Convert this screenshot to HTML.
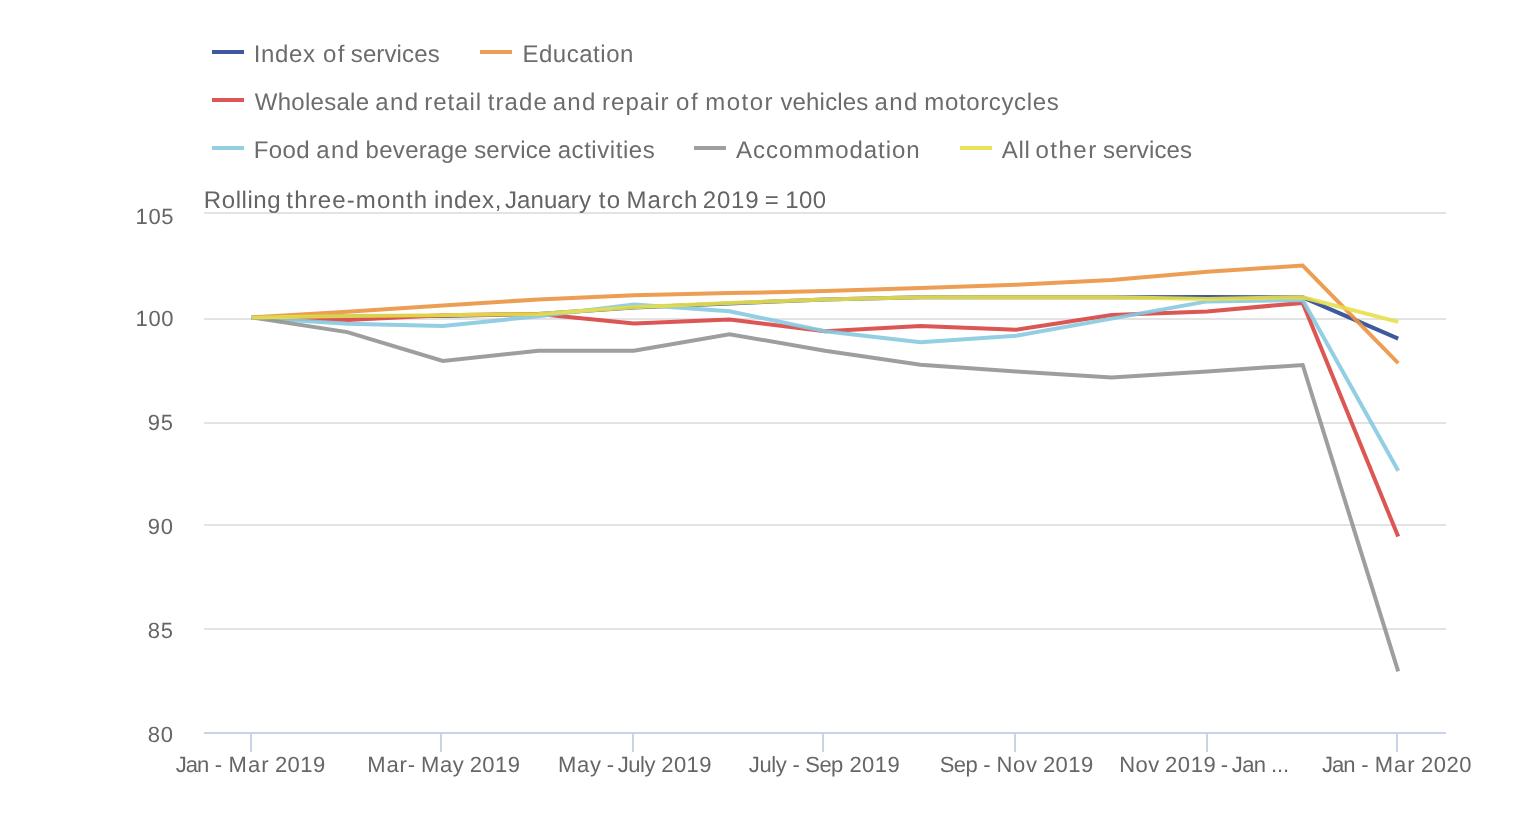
<!DOCTYPE html>
<html lang="en"><head><meta charset="utf-8"><title>Rolling three-month index of services</title>
<style>
html,body{margin:0;padding:0;background:#fff;}
body{width:1516px;height:814px;overflow:hidden;}
.chart-container{width:1516px;height:814px;}
svg{display:block;will-change:transform;}
text{font-family:"Liberation Sans",Arial,sans-serif;text-rendering:geometricPrecision;}
.lg{font-size:24px;fill:#6c6c6c;}
.st{font-size:24px;fill:#646464;}
.ax{font-size:22px;fill:#666666;}
.ay{font-size:22px;fill:#666666;}
.ser{fill:none;stroke-width:4;stroke-linejoin:miter;stroke-linecap:butt;}
</style></head><body>
<div id="chart" class="chart-container">
<svg width="1516" height="814" viewBox="0 0 1516 814">
<rect x="0" y="0" width="1516" height="814" fill="#ffffff"/>
<g class="grid" stroke="#e3e3e3" stroke-width="2" shape-rendering="crispEdges">
<line x1="204" y1="213" x2="1446" y2="213"/>
<line x1="204" y1="319" x2="1446" y2="319"/>
<line x1="204" y1="423" x2="1446" y2="423"/>
<line x1="204" y1="525" x2="1446" y2="525"/>
<line x1="204" y1="629" x2="1446" y2="629"/>
</g>
<g class="xaxis" stroke="#c8d3e8" stroke-width="2" shape-rendering="crispEdges">
<line x1="204" y1="733" x2="1446" y2="733"/>
<line x1="251" y1="734" x2="251" y2="752"/>
<line x1="441" y1="734" x2="441" y2="752"/>
<line x1="633" y1="734" x2="633" y2="752"/>
<line x1="823" y1="734" x2="823" y2="752"/>
<line x1="1015" y1="734" x2="1015" y2="752"/>
<line x1="1207" y1="734" x2="1207" y2="752"/>
<line x1="1397" y1="734" x2="1397" y2="752"/>
</g>
<g class="series">
<path class="ser" stroke="#2a4793" stroke-opacity="0.9" d="M251.8 317.5 L347.3 315.9 L442.8 315.9 L538.4 313.9 L633.9 307.6 L729.5 303.5 L825.0 299.4 L920.5 297.3 L1016.1 297.3 L1111.6 297.3 L1207.2 296.9 L1302.7 297.3 L1398.2 338.7"/>
<path class="ser" stroke="#ea9442" stroke-opacity="0.9" d="M251.8 317.5 L347.3 311.8 L442.8 305.6 L538.4 299.4 L633.9 295.2 L729.5 293.1 L825.0 291.1 L920.5 288.0 L1016.1 284.8 L1111.6 280.1 L1207.2 271.8 L1302.7 265.6 L1398.2 363.2"/>
<path class="ser" stroke="#d84441" stroke-opacity="0.9" d="M251.8 317.5 L347.3 320.1 L442.8 315.3 L538.4 313.9 L633.9 323.6 L729.5 319.5 L825.0 331.3 L920.5 325.9 L1016.1 329.8 L1111.6 314.9 L1207.2 311.4 L1302.7 302.9 L1398.2 536.6"/>
<path class="ser" stroke="#87c9df" stroke-opacity="0.9" d="M251.8 317.5 L347.3 323.8 L442.8 325.9 L538.4 316.3 L633.9 304.5 L729.5 311.2 L825.0 331.3 L920.5 342.2 L1016.1 335.8 L1111.6 318.6 L1207.2 301.4 L1302.7 300.0 L1398.2 470.7"/>
<path class="ser" stroke="#949494" stroke-opacity="0.9" d="M251.8 317.5 L347.3 332.1 L442.8 360.9 L538.4 350.7 L633.9 350.7 L729.5 334.2 L825.0 350.7 L920.5 364.8 L1016.1 371.5 L1111.6 377.5 L1207.2 371.5 L1302.7 365.0 L1398.2 671.3"/>
<path class="ser" stroke="#e8df4a" stroke-opacity="0.9" d="M251.8 317.5 L347.3 315.9 L442.8 315.3 L538.4 313.9 L633.9 307.2 L729.5 302.9 L825.0 299.4 L920.5 297.3 L1016.1 297.3 L1111.6 297.3 L1207.2 298.9 L1302.7 297.3 L1398.2 321.9"/>
</g>
<g class="legend">
<g class="legend-item">
<line x1="212" y1="52" x2="244" y2="52" stroke="#2a4793" stroke-opacity="0.9" stroke-width="4" shape-rendering="crispEdges"/>
<text class="lg" y="62.0"><tspan x="253.65" style="letter-spacing:0.675px">Index</tspan> <tspan x="322.95" style="letter-spacing:1.500px">of</tspan> <tspan x="350.75" style="letter-spacing:0.129px">services</tspan></text>
</g>
<g class="legend-item">
<line x1="480" y1="52" x2="512" y2="52" stroke="#ea9442" stroke-opacity="0.9" stroke-width="4" shape-rendering="crispEdges"/>
<text class="lg" y="62.0"><tspan x="522.40" style="letter-spacing:0.531px">Education</tspan></text>
</g>
<g class="legend-item">
<line x1="212" y1="100" x2="244" y2="100" stroke="#d84441" stroke-opacity="0.9" stroke-width="4" shape-rendering="crispEdges"/>
<text class="lg" y="110.0"><tspan x="254.80" style="letter-spacing:0.275px">Wholesale</tspan> <tspan x="375.30" style="letter-spacing:1.350px">and</tspan> <tspan x="424.30" style="letter-spacing:0.960px">retail</tspan> <tspan x="487.65" style="letter-spacing:1.100px">trade</tspan> <tspan x="552.70" style="letter-spacing:1.300px">and</tspan> <tspan x="602.10" style="letter-spacing:1.000px">repair</tspan> <tspan x="676.05" style="letter-spacing:1.500px">of</tspan> <tspan x="705.15" style="letter-spacing:1.500px">motor</tspan> <tspan x="780.40" style="letter-spacing:0.179px">vehicles</tspan> <tspan x="874.60" style="letter-spacing:1.300px">and</tspan> <tspan x="924.30" style="letter-spacing:0.635px">motorcycles</tspan></text>
</g>
<g class="legend-item">
<line x1="212" y1="148" x2="244" y2="148" stroke="#87c9df" stroke-opacity="0.9" stroke-width="4" shape-rendering="crispEdges"/>
<text class="lg" y="158.0"><tspan x="253.80" style="letter-spacing:0.383px">Food</tspan> <tspan x="316.20" style="letter-spacing:1.350px">and</tspan> <tspan x="365.60" style="letter-spacing:0.286px">beverage</tspan> <tspan x="474.15" style="letter-spacing:0.208px">service</tspan> <tspan x="557.70" style="letter-spacing:0.550px">activities</tspan></text>
</g>
<g class="legend-item">
<line x1="694" y1="148" x2="726" y2="148" stroke="#949494" stroke-opacity="0.9" stroke-width="4" shape-rendering="crispEdges"/>
<text class="lg" y="158.0"><tspan x="736.10" style="letter-spacing:0.954px">Accommodation</tspan></text>
</g>
<g class="legend-item">
<line x1="960" y1="148" x2="992" y2="148" stroke="#e8df4a" stroke-opacity="0.9" stroke-width="4" shape-rendering="crispEdges"/>
<text class="lg" y="158.0"><tspan x="1001.80" style="letter-spacing:0.650px">All</tspan> <tspan x="1035.43" style="letter-spacing:1.500px">other</tspan> <tspan x="1103.05" style="letter-spacing:0.143px">services</tspan></text>
</g>
</g>
<g class="subtitle">
<text class="st" y="208.0"><tspan x="203.80" style="letter-spacing:0.575px">Rolling</tspan> <tspan x="286.35" style="letter-spacing:1.135px">three-month</tspan> <tspan x="433.90" style="letter-spacing:0.700px">index,</tspan> <tspan x="504.90" style="letter-spacing:0.108px">January</tspan> <tspan x="598.67" style="letter-spacing:1.500px">to</tspan> <tspan x="626.60" style="letter-spacing:1.037px">March</tspan> <tspan x="702.85" style="letter-spacing:0.767px">2019</tspan> <tspan x="764.65">=</tspan> <tspan x="785.25" style="letter-spacing:0.375px">100</tspan></text>
</g>
<g class="yaxis-labels">
<text class="ay" x="135.60" y="224.0" textLength="37.92" lengthAdjust="spacing">105</text>
<text class="ay" x="135.60" y="326.0" textLength="37.92" lengthAdjust="spacing">100</text>
<text class="ay" x="147.80" y="430.0" textLength="25.28" lengthAdjust="spacing">95</text>
<text class="ay" x="147.80" y="534.0" textLength="25.08" lengthAdjust="spacing">90</text>
<text class="ay" x="147.80" y="638.0" textLength="25.28" lengthAdjust="spacing">85</text>
<text class="ay" x="147.80" y="742.0" textLength="25.08" lengthAdjust="spacing">80</text>
</g>
<g class="xaxis-labels">
<text class="ax" y="772.0"><tspan x="175.82" style="letter-spacing:-1.000px">Jan</tspan> <tspan x="214.80">-</tspan> <tspan x="228.62" style="letter-spacing:1.000px">Mar</tspan> <tspan x="274.90" style="letter-spacing:0.467px">2019</tspan></text>
<text class="ax" y="772.0"><tspan x="367.15" style="letter-spacing:0.933px">Mar-</tspan> <tspan x="420.95" style="letter-spacing:0.675px">May</tspan> <tspan x="469.70" style="letter-spacing:0.433px">2019</tspan></text>
<text class="ax" y="772.0"><tspan x="558.05" style="letter-spacing:0.725px">May</tspan> <tspan x="606.70">-</tspan> <tspan x="617.65" style="letter-spacing:-0.383px">July</tspan> <tspan x="661.20" style="letter-spacing:0.467px">2019</tspan></text>
<text class="ax" y="772.0"><tspan x="748.85" style="letter-spacing:-0.383px">July</tspan> <tspan x="792.50">-</tspan> <tspan x="805.30" style="letter-spacing:-0.575px">Sep</tspan> <tspan x="849.40" style="letter-spacing:0.433px">2019</tspan></text>
<text class="ax" y="772.0"><tspan x="939.70" style="letter-spacing:-0.525px">Sep</tspan> <tspan x="983.30">-</tspan> <tspan x="996.55" style="letter-spacing:0.625px">Nov</tspan> <tspan x="1042.90" style="letter-spacing:0.433px">2019</tspan></text>
<text class="ax" y="772.0"><tspan x="1119.15" style="letter-spacing:0.475px">Nov</tspan> <tspan x="1164.90" style="letter-spacing:0.667px">2019</tspan> <tspan x="1220.85">-</tspan> <tspan x="1231.85" style="letter-spacing:-0.625px">Jan</tspan> <tspan x="1271.10" style="letter-spacing:-0.100px">...</tspan></text>
<text class="ax" y="772.0"><tspan x="1322.02" style="letter-spacing:-1.000px">Jan</tspan> <tspan x="1361.20">-</tspan> <tspan x="1374.68" style="letter-spacing:1.000px">Mar</tspan> <tspan x="1421.10" style="letter-spacing:0.500px">2020</tspan></text>
</g>
</svg>
</div>
</body></html>
